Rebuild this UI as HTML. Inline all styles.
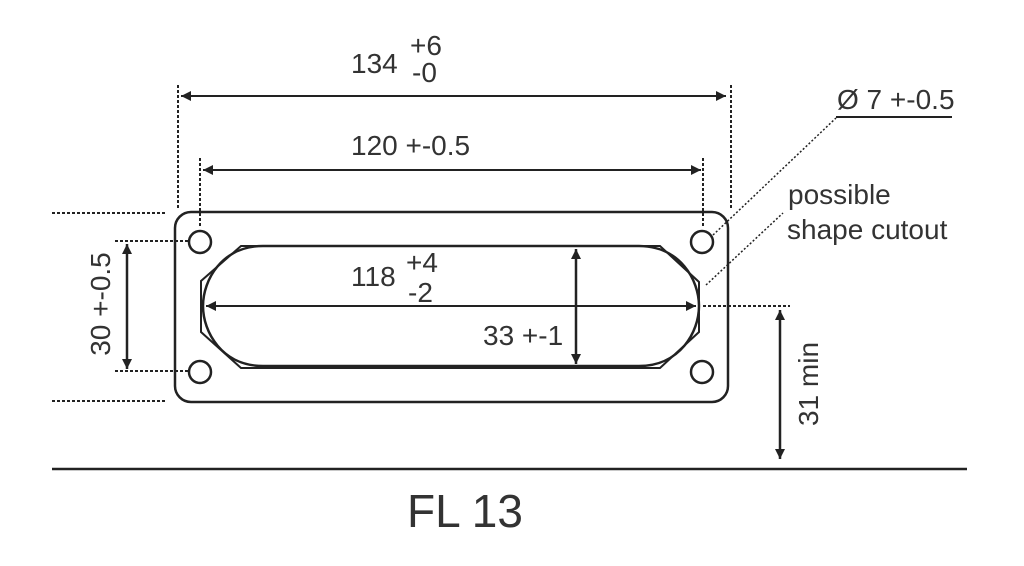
<!DOCTYPE html>
<html><head><meta charset="utf-8"><style>
html,body{margin:0;padding:0;background:#fff;}
svg{display:block;}
text{font-family:"Liberation Sans","DejaVu Sans",sans-serif;fill:#333;}
</style></head><body>
<svg width="1024" height="566" viewBox="0 0 1024 566" xmlns="http://www.w3.org/2000/svg">
<defs>
<marker id="a" viewBox="0 0 10 10" refX="10" refY="5" markerWidth="16" markerHeight="10" markerUnits="userSpaceOnUse" orient="auto-start-reverse">
<path d="M0,0 L10,5 L0,10 z" fill="#222"/></marker>
</defs>
<g stroke="#222" fill="none">
<rect x="175" y="212" width="553" height="190" rx="16" stroke-width="2.5"/>
<circle cx="200" cy="242" r="11" stroke-width="2.5"/>
<circle cx="200" cy="372" r="11" stroke-width="2.5"/>
<circle cx="702" cy="242" r="11" stroke-width="2.5"/>
<circle cx="702" cy="372" r="11" stroke-width="2.5"/>
<path d="M263,246 L639,246 C680,246 699,280 699,306 C699,332 680,366 639,366 L263,366 C222,366 203,332 203,306 C203,280 222,246 263,246 Z" stroke-width="2.5"/>
<path d="M241,246 L660,246 L699,282 L699,332 L660,368 L241,368 L201,332 L201,281 Z" stroke-width="2"/>
<line x1="181" y1="96" x2="726" y2="96" stroke-width="2" marker-start="url(#a)" marker-end="url(#a)"/>
<line x1="203" y1="170" x2="701" y2="170" stroke-width="2" marker-start="url(#a)" marker-end="url(#a)"/>
<line x1="206" y1="306" x2="696" y2="306" stroke-width="2" marker-start="url(#a)" marker-end="url(#a)"/>
<line x1="576" y1="249" x2="576" y2="364" stroke-width="2.5" marker-start="url(#a)" marker-end="url(#a)"/>
<line x1="127" y1="244" x2="127" y2="369" stroke-width="2.5" marker-start="url(#a)" marker-end="url(#a)"/>
<line x1="780" y1="310" x2="780" y2="459" stroke-width="2.5" marker-start="url(#a)" marker-end="url(#a)"/>
<g stroke-dasharray="3,2" stroke-width="2">
<line x1="178" y1="85" x2="178" y2="210"/>
<line x1="731" y1="85" x2="731" y2="210"/>
<line x1="200" y1="158" x2="200" y2="228"/>
<line x1="703" y1="158" x2="703" y2="228"/>
<line x1="52" y1="213" x2="165" y2="213"/>
<line x1="52" y1="401" x2="165" y2="401"/>
<line x1="115" y1="241" x2="188" y2="241"/>
<line x1="115" y1="371" x2="188" y2="371"/>
<line x1="703" y1="306" x2="790" y2="306"/>
</g>
<g stroke-dasharray="2,2" stroke-width="1.5">
<line x1="713" y1="235" x2="836" y2="118"/>
<line x1="706" y1="285" x2="783" y2="213"/>
</g>
<line x1="836" y1="117" x2="952" y2="117" stroke-width="2"/>
<line x1="52" y1="469" x2="967" y2="469" stroke-width="2.5"/>
</g>
<g font-size="28">
<text x="351" y="73">134</text>
<text x="410" y="55">+6</text>
<text x="412" y="82">-0</text>
<text x="351" y="155">120 +-0.5</text>
<text x="351" y="286">118</text>
<text x="406" y="272">+4</text>
<text x="408" y="302">-2</text>
<text x="483" y="345">33 +-1</text>
<text x="837" y="109">Ø 7 +-0.5</text>
<text x="788" y="204">possible</text>
<text x="787" y="239">shape cutout</text>
<text transform="translate(110,304) rotate(-90)" text-anchor="middle">30 +-0.5</text>
<text transform="translate(818,384) rotate(-90)" text-anchor="middle">31 min</text>
</g>
<text x="465" y="527" font-size="46" text-anchor="middle" fill="#444">FL 13</text>
</svg>
</body></html>
